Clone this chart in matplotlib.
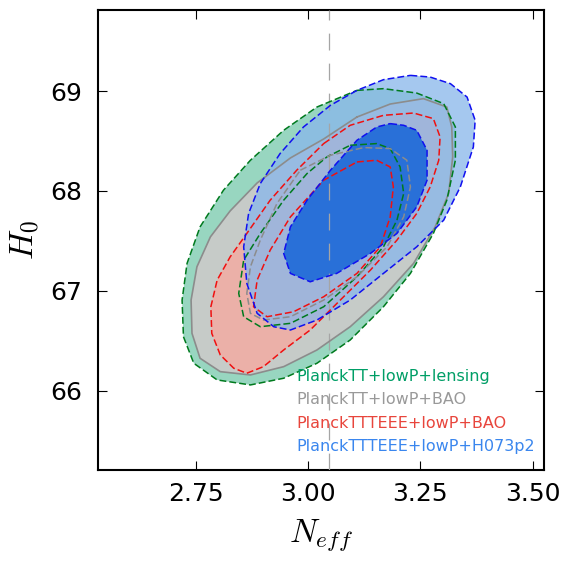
"""
N_eff vs H0 constraints: 68%/95% contours for four Planck data combinations.
Contour outlines are read off the original figure (N_eff, H0 pairs).
"""
import matplotlib
matplotlib.use("Agg")
import matplotlib.pyplot as plt

plt.rcParams["mathtext.fontset"] = "cm"

# ---------- Data: contour outlines (N_eff, H0) ----------
# PlanckTT+lowP+lensing
green95_x = [3.109, 3.168, 3.242, 3.302, 3.328, 3.328, 3.309, 3.279, 3.228, 3.168, 3.094, 3.020,
             2.946, 2.872, 2.798, 2.746, 2.723, 2.720, 2.731, 2.760, 2.812, 2.872, 2.946, 3.020]
green95_y = [69.007, 69.024, 68.980, 68.874, 68.640, 68.307, 67.907, 67.574, 67.174, 66.840, 66.507, 66.274,
             66.124, 66.057, 66.107, 66.274, 66.540, 66.907, 67.274, 67.640, 68.007, 68.307, 68.607, 68.840]
green68_x = [3.094, 3.153, 3.183, 3.205, 3.213, 3.198, 3.168, 3.109, 3.035,
             2.961, 2.894, 2.857, 2.846, 2.857, 2.894, 2.946, 2.998, 3.042]
green68_y = [68.457, 68.474, 68.424, 68.240, 67.974, 67.707, 67.440, 67.140, 66.840,
             66.674, 66.640, 66.740, 66.974, 67.307, 67.574, 67.907, 68.174, 68.340]

# PlanckTT+lowP+BAO
gray95_x = [3.109, 3.183, 3.257, 3.309, 3.320, 3.322, 3.313, 3.283, 3.235, 3.168, 3.094, 3.020,
            2.946, 2.872, 2.805, 2.760, 2.742, 2.740, 2.753, 2.783, 2.827, 2.887, 2.961, 3.035]
gray95_y = [68.740, 68.870, 68.924, 68.840, 68.640, 68.340, 67.974, 67.640, 67.274, 66.940, 66.640, 66.407,
            66.240, 66.157, 66.190, 66.324, 66.574, 66.907, 67.240, 67.540, 67.800, 68.080, 68.330, 68.520]
gray68_x = [2.983, 3.050, 3.124, 3.183, 3.220, 3.228, 3.213, 3.176, 3.109,
            3.035, 2.961, 2.901, 2.872, 2.864, 2.872, 2.894, 2.931]
gray68_y = [68.207, 68.357, 68.434, 68.424, 68.307, 68.040, 67.740, 67.440, 67.140,
            66.907, 66.740, 66.707, 66.774, 66.974, 67.240, 67.507, 67.874]

# PlanckTTTEEE+lowP+BAO
red95_x = [3.035, 3.094, 3.168, 3.235, 3.279, 3.294, 3.291, 3.272, 3.242, 3.198, 3.139, 3.072, 3.005,
           2.946, 2.901, 2.864, 2.835, 2.805, 2.786, 2.784, 2.798, 2.827, 2.864, 2.916, 2.975]
red95_y = [68.474, 68.657, 68.757, 68.780, 68.724, 68.540, 68.307, 68.040, 67.774, 67.507, 67.207, 66.907, 66.607,
           66.407, 66.240, 66.174, 66.224, 66.357, 66.574, 66.840, 67.107, 67.340, 67.574, 67.907, 68.207]
red68_x = [3.109, 3.153, 3.183, 3.190, 3.183, 3.161, 3.109, 3.035, 2.968, 2.909, 2.879, 2.887, 2.916, 2.961, 3.035]
red68_y = [68.290, 68.307, 68.240, 68.040, 67.740, 67.440, 67.174, 66.940, 66.790, 66.740, 66.840, 67.107,
           67.407, 67.740, 68.107]

# PlanckTTTEEE+lowP+H073p2
blue95_x = [3.228, 3.272, 3.317, 3.354, 3.372, 3.368, 3.339, 3.302, 3.242, 3.168, 3.094, 3.020,
            2.961, 2.924, 2.887, 2.864, 2.857, 2.868, 2.894, 2.938, 2.990, 3.050, 3.109, 3.168]
blue95_y = [69.157, 69.140, 69.074, 68.940, 68.707, 68.440, 68.040, 67.707, 67.440, 67.174, 66.907, 66.707,
            66.607, 66.640, 66.774, 67.074, 67.440, 67.774, 68.074, 68.374, 68.640, 68.857, 69.007, 69.114]
blue68_x = [3.183, 3.213, 3.242, 3.265, 3.265, 3.242, 3.198, 3.139, 3.064, 3.005,
            2.961, 2.946, 2.961, 2.998, 3.050, 3.109, 3.153]
blue68_y = [68.674, 68.657, 68.607, 68.407, 68.107, 67.840, 67.574, 67.374, 67.174, 67.090,
            67.174, 67.374, 67.640, 67.907, 68.207, 68.507, 68.640]

labels = ["PlanckTT+lowP+lensing", "PlanckTT+lowP+BAO",
          "PlanckTTTEEE+lowP+BAO", "PlanckTTTEEE+lowP+H073p2"]
label_colors = ["#009E66", "#999999", "#E8453C", "#3A86EE"]

neff_std = 3.046
xticks = [2.75, 3.00, 3.25, 3.50]
yticks = [66, 67, 68, 69]

# ---------- Plot ----------
fig = plt.figure(figsize=(5.66, 5.65), dpi=100)
ax = fig.add_axes([0.174, 0.169, 0.787, 0.813])

# filled regions (back to front)
ax.fill(green95_x, green95_y, color="#98D6C0", lw=0, zorder=1)
ax.fill(gray95_x, gray95_y, color="#C6CBC8", lw=0, zorder=2)
ax.fill(red95_x, red95_y, color="#EBB0A8", lw=0, zorder=3)
ax.fill(blue95_x, blue95_y, color="#89B7EB", alpha=0.76, lw=0, zorder=4)
ax.fill(blue68_x, blue68_y, color="#1464D8", alpha=0.85, lw=0, zorder=5)

ax.axvline(neff_std, color="#A5A5A5", lw=0.9, dashes=(13.5, 10.5), zorder=6)

# contour outlines
def outline(xs, ys, color, z, dashes=(4.5, 2.0), lw=1.1):
    ax.plot(list(xs) + [xs[0]], list(ys) + [ys[0]], color=color, lw=lw, dashes=dashes, zorder=z)

ax.plot(gray95_x + [gray95_x[0]], gray95_y + [gray95_y[0]], color="#8C8C8C", lw=1.2, zorder=7)
outline(green95_x, green95_y, "#007A1E", 7)
outline(green68_x, green68_y, "#007A1E", 8)
outline(gray68_x, gray68_y, "#8C8C8C", 8)
outline(red95_x, red95_y, "#F01010", 8)
outline(red68_x, red68_y, "#F01010", 9)
outline(blue95_x, blue95_y, "#1010F0", 9)
outline(blue68_x, blue68_y, "#1010F0", 10)

for i, (lab, col) in enumerate(zip(labels, label_colors)):
    ax.text(0.445, 0.203 - i * 0.0513, lab, color=col, fontsize=11.5,
            transform=ax.transAxes, va="center", ha="left", zorder=12)

ax.set_xlim(2.534, 3.525)
ax.set_ylim(65.21, 69.81)
ax.set_xticks(xticks)
ax.set_xticklabels([f"{t:.2f}" for t in xticks])
ax.set_yticks(yticks)
ax.tick_params(direction="in", length=6.5, width=0.8, labelsize=18,
               top=True, right=True)
ax.tick_params(axis="x", pad=9)
ax.tick_params(axis="y", pad=12)
for sp in ax.spines.values():
    sp.set_linewidth(1.5)

ax.set_xlabel(r"$N_{eff}$", fontsize=24, labelpad=8)
ax.set_ylabel(r"$H_0$", fontsize=24, labelpad=6)

plt.savefig("out.png", dpi=100)
plt.close()
